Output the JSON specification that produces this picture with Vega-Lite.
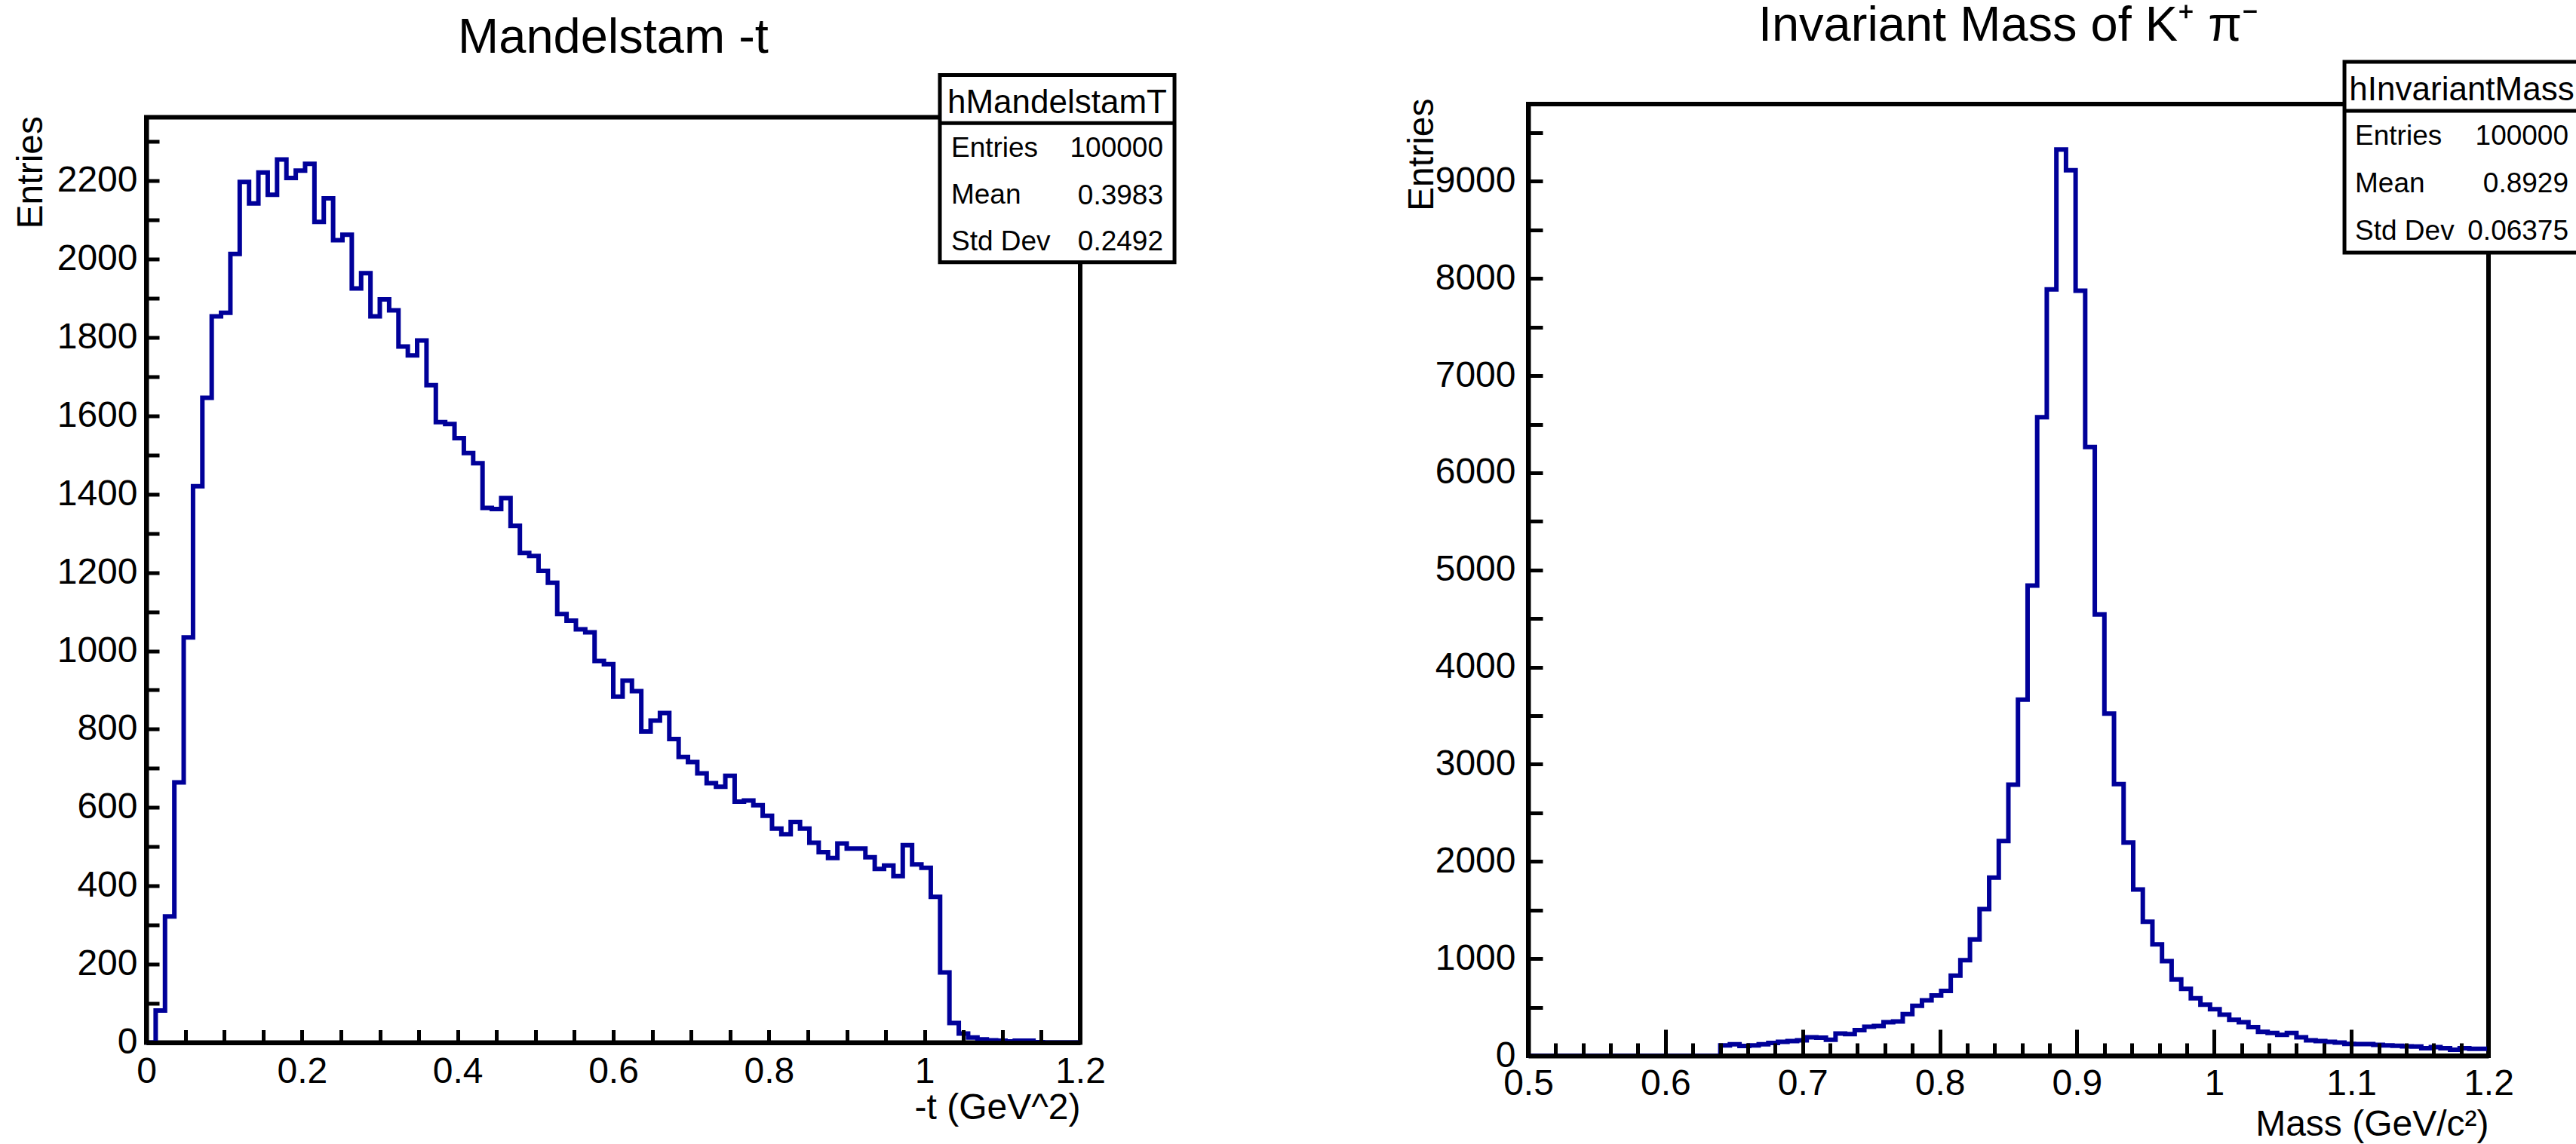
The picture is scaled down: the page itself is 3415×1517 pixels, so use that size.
{
  "$schema": "https://vega.github.io/schema/vega-lite/v6.json",
  "autosize": {"type": "none"},
  "padding": {"left": 194, "top": 138, "right": 3221, "bottom": 1379},
  "background": "white",
  "config": {"view": {"stroke": "black", "strokeWidth": 6}, "font": "Liberation Sans"},
  "spacing": 594,
  "bounds": "flush",
  "center": true,
  "datasets": {
    "mandelstam": [
      {"t": 0, "entries": 0}, {"t": 0.012, "entries": 82}, {"t": 0.024, "entries": 322}, {"t": 0.036, "entries": 664}, {"t": 0.048, "entries": 1034},
      {"t": 0.06, "entries": 1420}, {"t": 0.072, "entries": 1646}, {"t": 0.084, "entries": 1854}, {"t": 0.096, "entries": 1863}, {"t": 0.108, "entries": 2013},
      {"t": 0.12, "entries": 2197}, {"t": 0.132, "entries": 2142}, {"t": 0.144, "entries": 2221}, {"t": 0.156, "entries": 2164}, {"t": 0.168, "entries": 2254},
      {"t": 0.18, "entries": 2207}, {"t": 0.192, "entries": 2226}, {"t": 0.204, "entries": 2243}, {"t": 0.216, "entries": 2095}, {"t": 0.228, "entries": 2155},
      {"t": 0.24, "entries": 2048}, {"t": 0.252, "entries": 2062}, {"t": 0.264, "entries": 1925}, {"t": 0.276, "entries": 1964}, {"t": 0.288, "entries": 1854},
      {"t": 0.3, "entries": 1897}, {"t": 0.312, "entries": 1869}, {"t": 0.324, "entries": 1777}, {"t": 0.336, "entries": 1754}, {"t": 0.348, "entries": 1792},
      {"t": 0.36, "entries": 1678}, {"t": 0.372, "entries": 1584}, {"t": 0.384, "entries": 1579}, {"t": 0.396, "entries": 1543}, {"t": 0.408, "entries": 1505},
      {"t": 0.42, "entries": 1479}, {"t": 0.432, "entries": 1365}, {"t": 0.444, "entries": 1362}, {"t": 0.456, "entries": 1390}, {"t": 0.468, "entries": 1319},
      {"t": 0.48, "entries": 1250}, {"t": 0.492, "entries": 1242}, {"t": 0.504, "entries": 1204}, {"t": 0.516, "entries": 1174}, {"t": 0.528, "entries": 1094},
      {"t": 0.54, "entries": 1077}, {"t": 0.552, "entries": 1055}, {"t": 0.564, "entries": 1047}, {"t": 0.576, "entries": 974}, {"t": 0.588, "entries": 966},
      {"t": 0.6, "entries": 883}, {"t": 0.612, "entries": 924}, {"t": 0.624, "entries": 897}, {"t": 0.636, "entries": 794}, {"t": 0.648, "entries": 822},
      {"t": 0.66, "entries": 841}, {"t": 0.672, "entries": 775}, {"t": 0.684, "entries": 729}, {"t": 0.696, "entries": 716}, {"t": 0.708, "entries": 687},
      {"t": 0.72, "entries": 662}, {"t": 0.732, "entries": 653}, {"t": 0.744, "entries": 681}, {"t": 0.756, "entries": 615}, {"t": 0.768, "entries": 618},
      {"t": 0.78, "entries": 606}, {"t": 0.792, "entries": 579}, {"t": 0.804, "entries": 546}, {"t": 0.816, "entries": 532}, {"t": 0.828, "entries": 563},
      {"t": 0.84, "entries": 546}, {"t": 0.852, "entries": 510}, {"t": 0.864, "entries": 486}, {"t": 0.876, "entries": 471}, {"t": 0.888, "entries": 508},
      {"t": 0.9, "entries": 495}, {"t": 0.912, "entries": 495}, {"t": 0.924, "entries": 473}, {"t": 0.936, "entries": 443}, {"t": 0.948, "entries": 452},
      {"t": 0.96, "entries": 425}, {"t": 0.972, "entries": 504}, {"t": 0.984, "entries": 455}, {"t": 0.996, "entries": 446}, {"t": 1.008, "entries": 372},
      {"t": 1.02, "entries": 179}, {"t": 1.032, "entries": 50}, {"t": 1.044, "entries": 23}, {"t": 1.056, "entries": 13}, {"t": 1.068, "entries": 8},
      {"t": 1.08, "entries": 6}, {"t": 1.092, "entries": 5}, {"t": 1.104, "entries": 3}, {"t": 1.116, "entries": 5}, {"t": 1.128, "entries": 5},
      {"t": 1.14, "entries": 1}, {"t": 1.152, "entries": 0}, {"t": 1.164, "entries": 0}, {"t": 1.176, "entries": 0}, {"t": 1.188, "entries": 0},
      {"t": 1.2, "entries": 0}
    ],
    "mass": [
      {"mass": 0.5, "entries": 0}, {"mass": 0.507, "entries": 0}, {"mass": 0.514, "entries": 0}, {"mass": 0.521, "entries": 0}, {"mass": 0.528, "entries": 0},
      {"mass": 0.535, "entries": 0}, {"mass": 0.542, "entries": 0}, {"mass": 0.549, "entries": 0}, {"mass": 0.556, "entries": 0}, {"mass": 0.563, "entries": 0},
      {"mass": 0.57, "entries": 0}, {"mass": 0.577, "entries": 0}, {"mass": 0.584, "entries": 0}, {"mass": 0.591, "entries": 0}, {"mass": 0.598, "entries": 0},
      {"mass": 0.605, "entries": 0}, {"mass": 0.612, "entries": 0}, {"mass": 0.619, "entries": 0}, {"mass": 0.626, "entries": 0}, {"mass": 0.633, "entries": 0},
      {"mass": 0.64, "entries": 107}, {"mass": 0.647, "entries": 118}, {"mass": 0.654, "entries": 100}, {"mass": 0.661, "entries": 107}, {"mass": 0.668, "entries": 118},
      {"mass": 0.675, "entries": 131}, {"mass": 0.682, "entries": 144}, {"mass": 0.689, "entries": 152}, {"mass": 0.696, "entries": 160}, {"mass": 0.703, "entries": 190},
      {"mass": 0.71, "entries": 186}, {"mass": 0.717, "entries": 165}, {"mass": 0.724, "entries": 229}, {"mass": 0.731, "entries": 224}, {"mass": 0.738, "entries": 263},
      {"mass": 0.745, "entries": 299}, {"mass": 0.752, "entries": 307}, {"mass": 0.759, "entries": 345}, {"mass": 0.766, "entries": 353}, {"mass": 0.773, "entries": 428},
      {"mass": 0.78, "entries": 514}, {"mass": 0.787, "entries": 570}, {"mass": 0.794, "entries": 621}, {"mass": 0.801, "entries": 668}, {"mass": 0.808, "entries": 824},
      {"mass": 0.815, "entries": 984}, {"mass": 0.822, "entries": 1198}, {"mass": 0.829, "entries": 1510}, {"mass": 0.836, "entries": 1833}, {"mass": 0.843, "entries": 2210},
      {"mass": 0.85, "entries": 2790}, {"mass": 0.857, "entries": 3665}, {"mass": 0.864, "entries": 4839}, {"mass": 0.871, "entries": 6573}, {"mass": 0.878, "entries": 7887},
      {"mass": 0.885, "entries": 9328}, {"mass": 0.892, "entries": 9114}, {"mass": 0.899, "entries": 7874}, {"mass": 0.906, "entries": 6265}, {"mass": 0.913, "entries": 4542},
      {"mass": 0.92, "entries": 3522}, {"mass": 0.927, "entries": 2796}, {"mass": 0.934, "entries": 2195}, {"mass": 0.941, "entries": 1711}, {"mass": 0.948, "entries": 1380},
      {"mass": 0.955, "entries": 1147}, {"mass": 0.962, "entries": 974}, {"mass": 0.969, "entries": 785}, {"mass": 0.976, "entries": 689}, {"mass": 0.983, "entries": 591},
      {"mass": 0.99, "entries": 526}, {"mass": 0.997, "entries": 480}, {"mass": 1.004, "entries": 423}, {"mass": 1.011, "entries": 371}, {"mass": 1.018, "entries": 345},
      {"mass": 1.025, "entries": 294}, {"mass": 1.032, "entries": 247}, {"mass": 1.039, "entries": 234}, {"mass": 1.046, "entries": 216}, {"mass": 1.053, "entries": 234},
      {"mass": 1.06, "entries": 190}, {"mass": 1.067, "entries": 159}, {"mass": 1.074, "entries": 151}, {"mass": 1.081, "entries": 144}, {"mass": 1.088, "entries": 136},
      {"mass": 1.095, "entries": 123}, {"mass": 1.102, "entries": 120}, {"mass": 1.109, "entries": 120}, {"mass": 1.116, "entries": 113}, {"mass": 1.123, "entries": 107},
      {"mass": 1.13, "entries": 103}, {"mass": 1.137, "entries": 97}, {"mass": 1.144, "entries": 95}, {"mass": 1.151, "entries": 77}, {"mass": 1.158, "entries": 90},
      {"mass": 1.165, "entries": 77}, {"mass": 1.172, "entries": 62}, {"mass": 1.179, "entries": 77}, {"mass": 1.186, "entries": 72}, {"mass": 1.193, "entries": 72},
      {"mass": 1.2, "entries": 72}
    ],
    "statsT": [{"title": "hMandelstamT", "entries": "100000", "mean": "0.3983", "stddev": "0.2492"}],
    "statsM": [{"title": "hInvariantMass", "entries": "100000", "mean": "0.8929", "stddev": "0.06375"}]
  },
  "hconcat": [
    {
      "width": 1238,
      "height": 1227,
      "title": {"text": "Mandelstam -t", "fontSize": 65, "font": "Liberation Sans", "fontWeight": "normal", "color": "black", "anchor": "middle", "frame": "group", "baseline": "alphabetic", "offset": -37.7},
      "layer": [
        {
          "data": {"name": "mandelstam"},
          "mark": {"type": "line", "interpolate": "step-after", "color": "#000099", "strokeWidth": 6, "strokeJoin": "miter", "strokeCap": "butt", "clip": false},
          "encoding": {
            "x": {"field": "t", "type": "quantitative", "scale": {"domain": [0, 1.2], "nice": false, "zero": false},
              "axis": {"values": [0,0.05,0.1,0.15,0.2,0.25,0.3,0.35,0.4,0.45,0.5,0.55,0.6,0.65,0.7,0.75,0.8,0.85,0.9,0.95,1,1.05,1.1,1.15,1.2],
                "format": "~g", "labelExpr": "abs(datum.value/0.2 - round(datum.value/0.2)) < 1e-6 ? datum.label : ''",
                "tickSize": -17, "tickWidth": 5, "tickColor": "black",
                "encode": {"ticks": {"update": {"y2": {"signal": "abs(datum.value/0.2 - round(datum.value/0.2)) < 1e-6 ? -34 : -17"}}}},
                "domain": true, "domainColor": "black", "domainWidth": 6, "grid": false,
                "labelFont": "Liberation Sans", "labelFontSize": 48, "labelColor": "black", "labelPadding": 32, "labelFlush": false, "labelOverlap": false, "labelAlign": "center", "labelBaseline": "top",
                "title": "-t (GeV^2)", "titleFont": "Liberation Sans", "titleFontSize": 48, "titleFontWeight": "normal", "titleColor": "black",
                "titleAlign": "right", "titleBaseline": "alphabetic", "titleAngle": 0, "titleX": 1238, "titleY": 101, "zindex": 1}},
            "y": {"field": "entries", "type": "quantitative", "scale": {"domain": [0, 2362], "nice": false, "zero": false},
              "axis": {"values": [0,50,100,150,200,250,300,350,400,450,500,550,600,650,700,750,800,850,900,950,1000,1050,1100,1150,1200,1250,1300,1350,1400,1450,1500,1550,1600,1650,1700,1750,1800,1850,1900,1950,2000,2050,2100,2150,2200,2250,2300,2350],
                "format": "d", "labelExpr": "datum.value % 200 === 0 ? datum.label : ''",
                "tickSize": -17, "tickWidth": 5, "tickColor": "black",
                "encode": {"ticks": {"update": {"x2": {"signal": "datum.value % 200 === 0 ? 36 : 17"}}}},
                "domain": true, "domainColor": "black", "domainWidth": 6, "grid": false,
                "labelFont": "Liberation Sans", "labelFontSize": 48, "labelColor": "black", "labelPadding": 29, "labelFlush": false, "labelOverlap": false, "labelAlign": "right", "labelBaseline": "middle",
                "title": "Entries", "titleFont": "Liberation Sans", "titleFontSize": 48, "titleFontWeight": "normal", "titleColor": "black",
                "titleAngle": 270, "titleAlign": "right", "titleBaseline": "alphabetic", "titleX": -139, "titleY": -2, "zindex": 1}}
          }
        },
        {
          "data": {"name": "statsT"},
          "mark": {"type": "rect", "fill": "white", "stroke": "black", "strokeWidth": 5, "clip": false},
          "encoding": {"x": {"datum": 1.0197}, "x2": {"datum": 1.3212}, "y": {"datum": 2470}, "y2": {"datum": 1992}}
        },
        {
          "data": {"name": "statsT"},
          "mark": {"type": "rule", "color": "black", "strokeWidth": 5, "clip": false},
          "encoding": {"x": {"datum": 1.0197}, "x2": {"datum": 1.3212}, "y": {"datum": 2347}}
        },
        {
          "data": {"name": "statsT"},
          "mark": {"type": "text", "font": "Liberation Sans", "fontSize": 44, "align": "center", "baseline": "alphabetic", "color": "black", "clip": false},
          "encoding": {"x": {"datum": 1.1704}, "y": {"datum": 2372}, "text": {"field": "title"}}
        },
        {
          "data": {"name": "statsT"},
          "mark": {"type": "text", "font": "Liberation Sans", "fontSize": 37, "align": "left", "baseline": "alphabetic", "color": "black", "lineHeight": 62, "clip": false},
          "encoding": {"x": {"datum": 1.0342}, "y": {"datum": 2260}, "text": {"value": ["Entries", "Mean", "Std Dev"]}}
        },
        {
          "data": {"name": "statsT"},
          "mark": {"type": "text", "font": "Liberation Sans", "fontSize": 37, "align": "right", "baseline": "alphabetic", "color": "black", "clip": false},
          "encoding": {"x": {"datum": 1.3066}, "y": {"datum": 2260}, "text": {"field": "entries"}}
        },
        {
          "data": {"name": "statsT"},
          "mark": {"type": "text", "font": "Liberation Sans", "fontSize": 37, "align": "right", "baseline": "alphabetic", "color": "black", "clip": false},
          "encoding": {"x": {"datum": 1.3066}, "y": {"datum": 2140.6}, "text": {"field": "mean"}}
        },
        {
          "data": {"name": "statsT"},
          "mark": {"type": "text", "font": "Liberation Sans", "fontSize": 37, "align": "right", "baseline": "alphabetic", "color": "black", "clip": false},
          "encoding": {"x": {"datum": 1.3066}, "y": {"datum": 2021.3}, "text": {"field": "stddev"}}
        }
      ]
    },
    {
      "width": 1273,
      "height": 1262,
      "title": {"text": "Invariant Mass of K⁺ π⁻", "fontSize": 65, "font": "Liberation Sans", "fontWeight": "normal", "color": "black", "anchor": "middle", "frame": "group", "baseline": "alphabetic", "offset": -39.2},
      "resolve": {"axis": {"x": "independent"}},
      "layer": [
        {
          "data": {"name": "mass"},
          "mark": {"type": "line", "interpolate": "step-after", "color": "#000099", "strokeWidth": 6, "strokeJoin": "miter", "strokeCap": "butt", "clip": false},
          "encoding": {
            "x": {"field": "mass", "type": "quantitative", "scale": {"domain": [0.5, 1.2], "nice": false, "zero": false},
              "axis": {"orient": "bottom", "values": [0.5,0.6,0.7,0.8,0.9,1,1.1,1.2],
                "format": "~g",
                "tickSize": -35, "tickWidth": 5, "tickColor": "black",
                "domain": true, "domainColor": "black", "domainWidth": 6, "grid": false,
                "labelFont": "Liberation Sans", "labelFontSize": 48, "labelColor": "black", "labelPadding": 48, "labelFlush": false, "labelOverlap": false, "labelAlign": "center", "labelBaseline": "top",
                "title": "Mass (GeV/c²)", "titleFont": "Liberation Sans", "titleFontSize": 48, "titleFontWeight": "normal", "titleColor": "black",
                "titleAlign": "right", "titleBaseline": "alphabetic", "titleAngle": 0, "titleX": 1273, "titleY": 105, "zindex": 1}},
            "y": {"field": "entries", "type": "quantitative", "scale": {"domain": [0, 9795], "nice": false, "zero": false},
              "axis": {"values": [0,250,500,750,1000,1250,1500,1750,2000,2250,2500,2750,3000,3250,3500,3750,4000,4250,4500,4750,5000,5250,5500,5750,6000,6250,6500,6750,7000,7250,7500,7750,8000,8250,8500,8750,9000,9250,9500,9750],
                "format": "d", "labelExpr": "datum.value % 1000 === 0 ? datum.label : ''",
                "tickSize": -19, "tickWidth": 5, "tickColor": "black",
                "encode": {"ticks": {"update": {"x2": {"signal": "datum.value % 1000 === 0 ? 38 : 19"}}}},
                "domain": true, "domainColor": "black", "domainWidth": 6, "grid": false,
                "labelFont": "Liberation Sans", "labelFontSize": 48, "labelColor": "black", "labelPadding": 36, "labelFlush": false, "labelOverlap": false, "labelAlign": "right", "labelBaseline": "middle",
                "title": "Entries", "titleFont": "Liberation Sans", "titleFontSize": 48, "titleFontWeight": "normal", "titleColor": "black",
                "titleAngle": 270, "titleAlign": "right", "titleBaseline": "alphabetic", "titleX": -127, "titleY": -8, "zindex": 1}}
          }
        },
        {
          "data": {"name": "statsM"},
          "mark": {"type": "rect", "fill": "white", "stroke": "black", "strokeWidth": 5, "clip": false},
          "encoding": {
            "x": {"datum": 1.095, "axis": {"orient": "bottom", "values": [0.52,0.54,0.56,0.58,0.62,0.64,0.66,0.68,0.72,0.74,0.76,0.78,0.82,0.84,0.86,0.88,0.92,0.94,0.96,0.98,1.02,1.04,1.06,1.08,1.12,1.14,1.16,1.18],
              "labels": false, "domain": false, "grid": false, "title": null, "tickSize": -17, "tickWidth": 5, "tickColor": "black", "zindex": 1}},
            "x2": {"datum": 1.28}, "y": {"datum": 10230}, "y2": {"datum": 8266}}
        },
        {
          "data": {"name": "statsM"},
          "mark": {"type": "rule", "color": "black", "strokeWidth": 5, "clip": false},
          "encoding": {"x": {"datum": 1.095, "axis": null}, "x2": {"datum": 1.28}, "y": {"datum": 9725}}
        },
        {
          "data": {"name": "statsM"},
          "mark": {"type": "text", "font": "Liberation Sans", "fontSize": 44, "align": "center", "baseline": "alphabetic", "color": "black", "clip": false},
          "encoding": {"x": {"datum": 1.1805, "axis": null}, "y": {"datum": 9834}, "text": {"field": "title"}}
        },
        {
          "data": {"name": "statsM"},
          "mark": {"type": "text", "font": "Liberation Sans", "fontSize": 37, "align": "left", "baseline": "alphabetic", "color": "black", "lineHeight": 63, "clip": false},
          "encoding": {"x": {"datum": 1.1027, "axis": null}, "y": {"datum": 9376}, "text": {"value": ["Entries", "Mean", "Std Dev"]}}
        },
        {
          "data": {"name": "statsM"},
          "mark": {"type": "text", "font": "Liberation Sans", "fontSize": 37, "align": "right", "baseline": "alphabetic", "color": "black", "clip": false},
          "encoding": {"x": {"datum": 1.2583, "axis": null}, "y": {"datum": 9376}, "text": {"field": "entries"}}
        },
        {
          "data": {"name": "statsM"},
          "mark": {"type": "text", "font": "Liberation Sans", "fontSize": 37, "align": "right", "baseline": "alphabetic", "color": "black", "clip": false},
          "encoding": {"x": {"datum": 1.2583, "axis": null}, "y": {"datum": 8887}, "text": {"field": "mean"}}
        },
        {
          "data": {"name": "statsM"},
          "mark": {"type": "text", "font": "Liberation Sans", "fontSize": 37, "align": "right", "baseline": "alphabetic", "color": "black", "clip": false},
          "encoding": {"x": {"datum": 1.2583, "axis": null}, "y": {"datum": 8398}, "text": {"field": "stddev"}}
        }
      ]
    }
  ]
}
